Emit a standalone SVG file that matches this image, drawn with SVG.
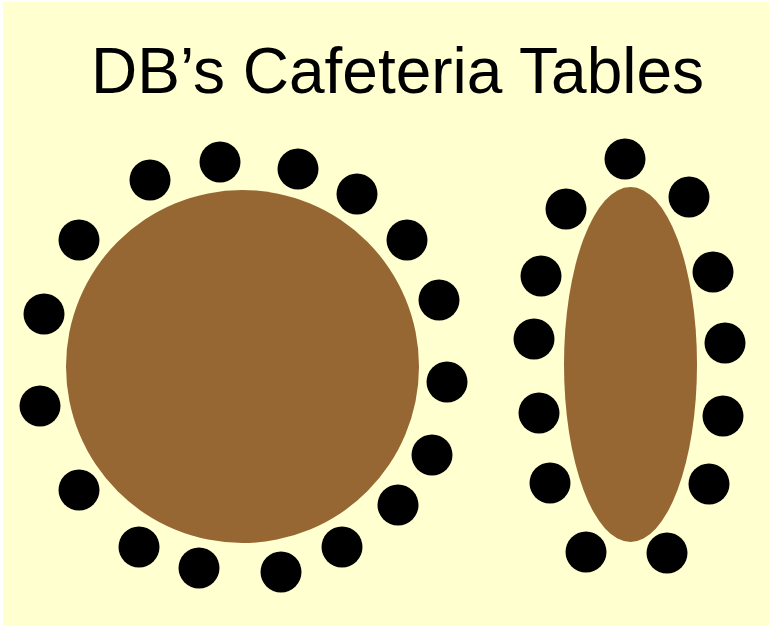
<svg xmlns="http://www.w3.org/2000/svg" width="769" height="626" viewBox="0 0 769 626">
<style>
.chair{fill:#000000}
.table{fill:#966633}
.title{font-family:"Liberation Sans",Arial,sans-serif;font-size:64px;fill:#000000}
</style>
<rect x="0" y="0" width="769" height="626" fill="#ffffff"/>
<rect x="3" y="2" width="766" height="624" fill="#ffffd0"/>
<text class="title" x="397.5" y="93" text-anchor="middle">DB’s Cafeteria Tables</text>
<g id="round-table">
<circle class="table" cx="242.5" cy="366.5" r="176.5"/>
</g>
<g id="round-chairs">
<circle class="chair" cx="150" cy="180" r="20.5"/>
<circle class="chair" cx="220" cy="162" r="20.5"/>
<circle class="chair" cx="298" cy="169" r="20.5"/>
<circle class="chair" cx="357" cy="194" r="20.5"/>
<circle class="chair" cx="407" cy="240" r="20.5"/>
<circle class="chair" cx="439" cy="300" r="20.5"/>
<circle class="chair" cx="447" cy="382" r="20.5"/>
<circle class="chair" cx="432" cy="455" r="20.5"/>
<circle class="chair" cx="398" cy="505" r="20.5"/>
<circle class="chair" cx="342" cy="547" r="20.5"/>
<circle class="chair" cx="281" cy="572" r="20.5"/>
<circle class="chair" cx="199" cy="568" r="20.5"/>
<circle class="chair" cx="139" cy="547" r="20.5"/>
<circle class="chair" cx="79" cy="490" r="20.5"/>
<circle class="chair" cx="40" cy="406" r="20.5"/>
<circle class="chair" cx="44" cy="314" r="20.5"/>
<circle class="chair" cx="79" cy="240" r="20.5"/>
</g>
<g id="oval-table">
<ellipse class="table" cx="630.5" cy="364.5" rx="66.5" ry="177.5"/>
</g>
<g id="oval-chairs">
<circle class="chair" cx="625" cy="159" r="20.5"/>
<circle class="chair" cx="566" cy="209" r="20.5"/>
<circle class="chair" cx="689" cy="197" r="20.5"/>
<circle class="chair" cx="541" cy="276" r="20.5"/>
<circle class="chair" cx="713" cy="272" r="20.5"/>
<circle class="chair" cx="534" cy="339" r="20.5"/>
<circle class="chair" cx="725" cy="343" r="20.5"/>
<circle class="chair" cx="539" cy="413" r="20.5"/>
<circle class="chair" cx="723" cy="416" r="20.5"/>
<circle class="chair" cx="550" cy="483" r="20.5"/>
<circle class="chair" cx="709" cy="484" r="20.5"/>
<circle class="chair" cx="586" cy="552" r="20.5"/>
<circle class="chair" cx="667" cy="553" r="20.5"/>
</g>
</svg>
